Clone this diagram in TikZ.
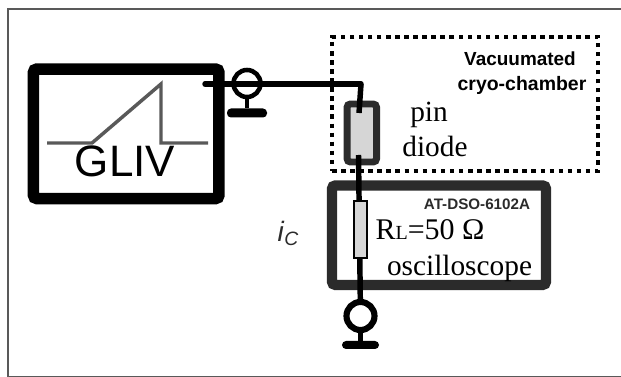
\documentclass[tikz,border=0pt]{standalone}
\usepackage{fontspec}
\setmainfont{Liberation Serif}
\setsansfont{Liberation Sans}
\usepackage{tikz}
\usetikzlibrary{positioning}

\newcommand{\pxu}{0.75pt}
\definecolor{boxdark}{gray}{0.17}
\definecolor{pulsegray}{gray}{0.35}
\definecolor{partgray}{gray}{0.84}

\tikzset{
	wire/.style={line width=4.1pt,black},
	thickbox/.style={draw,rectangle,rounded corners=2.5pt,inner sep=0pt},
	part/.style={draw,rectangle,fill=partgray,inner sep=0pt},
	bnc/.style={draw=black,circle,inner sep=0pt,fill=white,minimum size=28*\pxu},
	gnd/.style={fill=black,rectangle,rounded corners=3pt,inner sep=0pt},
	lab/.style={anchor=base,inner sep=0pt},
}

\begin{document}
\begin{tikzpicture}[x=\pxu,y=-\pxu]
	\useasboundingbox (0,0) rectangle (621,377);
	\node[draw=black!65,line width=1.5pt,rectangle,inner sep=0pt,minimum width=616*\pxu,minimum height=368*\pxu,anchor=north west] at (7,8) (frame) {};

	% boxes
	\node[thickbox,draw=black,line width=8.6pt,minimum width=185.5*\pxu,minimum height=129.5*\pxu] at (126.2,133.8) (gliv) {};
	\node[thickbox,draw=boxdark,line width=7.7pt,minimum width=214*\pxu,minimum height=99.5*\pxu] at (439,235.2) (scope) {};
	\node[draw,line width=3.4pt,rectangle,inner sep=0pt,dash pattern=on 3.4pt off 3.4pt,minimum width=266*\pxu,minimum height=134*\pxu] at (465,104) (chamber) {};

	% pulse
	\coordinate (p0) at (47,143);
	\coordinate (p1) at (92,143);
	\coordinate (p2) at (161,84);
	\coordinate (p3) at (161,143);
	\coordinate (p4) at (208,143);
	\draw[pulsegray,line width=2.6pt] (p0) -- (p1) -- (p2) -- (p3) -- (p4);

	% parts
	\node[thickbox,part,draw=boxdark,line width=5.2pt,minimum width=29.5*\pxu,minimum height=58*\pxu] at (361.8,133) (diode) {};
	\coordinate (port) at (205,84);
	\coordinate (bend) at (361,84);
	\coordinate (dtop) at (359,113);
	\coordinate (dbot) at (358.5,155);

	\node[bnc,line width=3.4pt,minimum size=27*\pxu] at (247,83.5) (bnctop) {};
	\node[gnd,minimum width=40*\pxu,minimum height=9*\pxu] at (247,113) (gndtop) {};
	\node[bnc,line width=4.6pt] at (360.5,316) (bncbot) {};
	\node[gnd,minimum width=37*\pxu,minimum height=8*\pxu] at (360.5,345) (gndbot) {};

	\path[wire,line cap=round] (port) edge (bend);
	\path[wire] (bend) edge (dtop);
	\path[wire] (dbot) edge (bncbot);
	\path[wire,line width=2.6pt] (bnctop) edge (gndtop);
	\path[wire,line width=3.2pt] (bncbot) edge (gndbot);

	\node[part,draw=black,line width=1.5pt,minimum width=13*\pxu,minimum height=57*\pxu] at (360.5,229.5) (rload) {};

	% labels
	\node[lab,font=\sffamily\fontsize{33}{33}\selectfont] at (125,177) (glivtxt) {GLIV};
	\node[lab,font=\sffamily\bfseries\fontsize{14.2}{14.2}\selectfont] at (520,66) (vac) {Vacuumated};
	\node[lab,font=\sffamily\bfseries\fontsize{14.6}{14.6}\selectfont] at (522,91) (cryo) {cryo-chamber};
	\node[lab,font=\fontsize{22}{22}\selectfont] at (429,122) (pin) {pin};
	\node[lab,font=\fontsize{22}{22}\selectfont] at (435,157) (dio) {diode};
	\node[lab,font=\sffamily\bfseries\fontsize{11.4}{11.4}\selectfont,text=boxdark] at (477,210) (model) {AT-DSO-6102A};
	\node[lab,font=\fontsize{22.5}{22.5}\selectfont] at (430,240) (rval) {R{\fontsize{15}{15}\selectfont L}=50 Ω};
	\node[lab,font=\fontsize{22}{22}\selectfont] at (459.5,276) (osc) {oscilloscope};
	\node[lab,font=\sffamily\fontsize{21}{21}\selectfont,text=boxdark] at (288,242) (ic) {\textit{i}\raisebox{-3pt}{\fontsize{14.5}{14.5}\selectfont\textit{C}}};
\end{tikzpicture}
\end{document}
